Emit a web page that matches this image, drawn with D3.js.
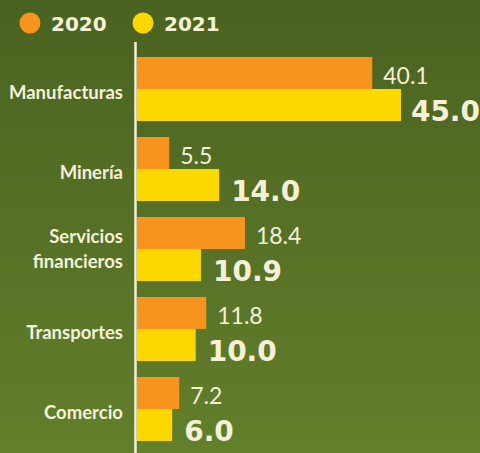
<!DOCTYPE html>
<html><head><meta charset="utf-8">
<script src="https://cdn.jsdelivr.net/npm/d3@7"></script>
<style>
html,body{margin:0;padding:0;overflow:hidden;background:#4f6a23;}
svg{display:block;}
</style></head>
<body>
<script>
const categories = ["Manufacturas", "Minería", "Servicios financieros", "Transportes", "Comercio"];
const seriesNames = ["2020", "2021"];
const values2020 = [40.1, 5.5, 18.4, 11.8, 7.2];
const values2021 = [45.0, 14.0, 10.9, 10.0, 6.0];
const seriesColors = ["#f7941d", "#fcd800"];

const W = 480, H = 453;
const textColor = "#f5f0d8";

const svg = d3.select("body").append("svg").attr("width", W).attr("height", H);
const defs = svg.append("defs");
const grad = defs.append("linearGradient").attr("id", "bg").attr("x1", 0).attr("y1", 0).attr("x2", 0).attr("y2", 1);
grad.append("stop").attr("offset", "0%").attr("stop-color", "#4a6220");
grad.append("stop").attr("offset", "100%").attr("stop-color", "#627f2b");
svg.append("rect").attr("width", W).attr("height", H).attr("fill", "url(#bg)");

const x = d3.scaleLinear().domain([0, 45]).range([137, 401]);
const y = d3.scaleBand().domain(categories).range([49, 449]).paddingInner(0.2).paddingOuter(0.1);
const ys = d3.scaleBand().domain(seriesNames).range([0, y.bandwidth()]);

const data = categories.map((c, i) => ({cat: c, vals: [values2020[i], values2021[i]]}));

// bars
const groups = svg.selectAll("g.grp").data(data).join("g").attr("class", "grp")
  .attr("transform", d => `translate(0,${y(d.cat)})`);
groups.selectAll("rect").data(d => d.vals.map((v, j) => ({v, s: seriesNames[j], j})))
  .join("rect")
  .attr("x", x(0))
  .attr("y", d => ys(d.s))
  .attr("width", d => x(d.v) - x(0))
  .attr("height", ys.bandwidth())
  .attr("fill", d => seriesColors[d.j]);

// value labels
groups.selectAll("text.val").data(d => d.vals.map((v, j) => ({v, s: seriesNames[j], j})))
  .join("text").attr("class", "val")
  .attr("y", d => ys(d.s) + ys.bandwidth() - (d.j === 0 ? 5 : 0))
  .attr("fill", textColor)
  .attr("font-family", d => d.j === 0 ? "Lato, sans-serif" : "'DejaVu Sans', sans-serif")
  .attr("font-weight", d => d.j === 0 ? 400 : 700)
  .attr("font-size", d => d.j === 0 ? 23 : 28)
  .text(d => d.v.toFixed(1))
  .each(function(d) {
    const w = this.getComputedTextLength();
    const px = Math.min(x(d.v) + (d.j === 0 ? 11 : 12), W - w);
    d3.select(this).attr("x", px);
  });

// axis (category labels)
const axis = svg.append("g").attr("transform", "translate(135,0)")
  .call(d3.axisLeft(y).tickSize(0).tickPadding(12));
axis.select(".domain").remove();
axis.selectAll(".tick text")
  .attr("fill", textColor)
  .attr("font-family", "Lato, sans-serif")
  .attr("font-weight", 700)
  .attr("font-size", 18.5)
  .each(function(d) {
    const t = d3.select(this);
    if (d === "Servicios financieros") {
      t.text(null);
      t.append("tspan").attr("x", -12).attr("dy", "-0.35em").text("Servicios");
      t.append("tspan").attr("x", -12).attr("dy", "1.35em").text("financieros");
    } else {
      t.attr("dy", "0.55em");
    }
  });

// vertical axis line
svg.append("line").attr("x1", 135.5).attr("x2", 135.5).attr("y1", 42).attr("y2", H)
  .attr("stroke", textColor).attr("stroke-width", 2.5);

// legend
const legend = svg.append("g");
const legendX = [30, 143];
seriesNames.forEach((s, i) => {
  legend.append("circle").attr("cx", legendX[i]).attr("cy", 23).attr("r", 10.5).attr("fill", seriesColors[i]);
  legend.append("text").attr("x", legendX[i] + 21).attr("y", 31)
    .attr("fill", textColor).attr("font-family", "'DejaVu Sans', sans-serif")
    .attr("font-weight", 700).attr("font-size", 20).text(s);
});
</script>
</body></html>
